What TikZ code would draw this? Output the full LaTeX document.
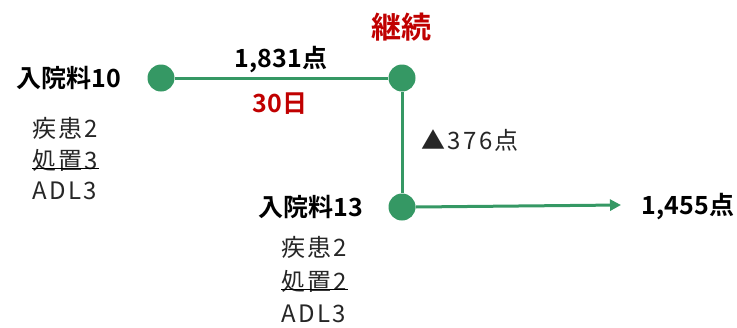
\documentclass[tikz,border=0pt]{standalone}
\usepackage{fontspec}
\newfontfamily\jp[LetterSpace=10]{Noto Sans CJK JP}
\newfontfamily\jpb{Noto Sans CJK JP Bold}
\usetikzlibrary{arrows.meta}
\definecolor{lgreen}{RGB}{53,152,100}
\definecolor{lred}{RGB}{192,0,0}
\tikzset{
  dot/.style={circle,fill=lgreen,minimum size=27pt,inner sep=0pt},
  conn/.style={draw=lgreen,line width=3pt},
  lbl/.style={font=\jpb\fontsize{25}{25}\selectfont,inner sep=0pt},
  redlbl/.style={lbl,text=lred},
  detail/.style={font=\jp\fontsize{24}{24}\selectfont,inner sep=0pt,anchor=west,text=black!85},
}
\begin{document}
\begin{tikzpicture}[x=1pt,y=-1pt]
\useasboundingbox (0,0) rectangle (737,327);
\node[dot] (d1) at (161,78) {};
\node[dot] (d2) at (402,78) {};
\node[dot] (d3) at (402,207) {};
\coordinate (tip) at (621,205);
\draw[conn] (d1) -- (d2);
\draw[conn] (d2) -- (d3);
\draw[conn,-{Triangle[length=11pt,width=11pt]}] (d3.east) -- (tip);

\node[redlbl,font=\jpb\fontsize{30}{30}\selectfont] (keizoku) at (401,27) {継続};
\node[lbl] (n10) at (69,78) {入院料10};
\node[lbl] (p1) at (281,60) {1,831点};
\node[redlbl] (days) at (280,104) {30日};
\node[detail,font=\jp\fontsize{24}{24}\selectfont] (tri) at (421,140) {▲376点};
\node[lbl] (n13) at (311,207) {入院料13};
\node[lbl] (p2) at (688,207) {1,455点};

\node[detail] (a1) at (32,128) {疾患2};
\node[detail] (a2) at (32,160) {処置3};
\node[detail] (a3) at (32,191) {ADL3};
\draw[line width=1.5pt] ([yshift=3pt]a2.south west) -- ([yshift=3pt]a2.south east);

\node[detail] (b1) at (281,247) {疾患2};
\node[detail] (b2) at (281,281) {処置2};
\node[detail] (b3) at (281,314) {ADL3};
\draw[line width=1.5pt] ([yshift=3pt]b2.south west) -- ([yshift=3pt]b2.south east);
\end{tikzpicture}
\end{document}
